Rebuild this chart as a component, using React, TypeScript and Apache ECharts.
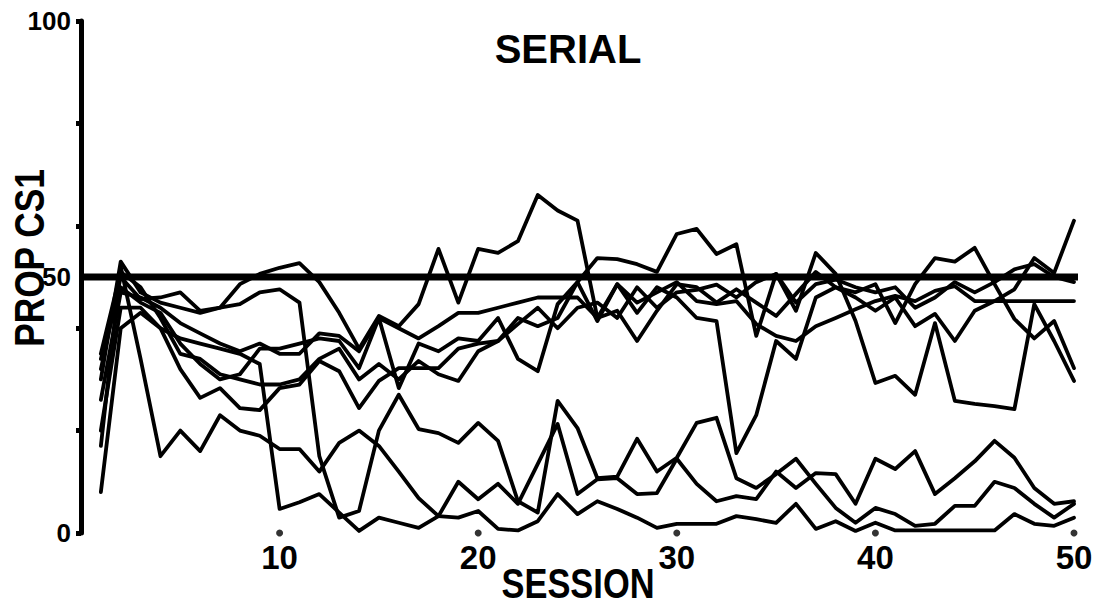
import React, { useEffect, useRef } from "react";
import * as echarts from "echarts";

const sessions = [1,2,3,4,5,6,7,8,9,10,11,12,13,14,15,16,17,18,19,20,21,22,23,24,25,26,27,28,29,30,31,32,33,34,35,36,37,38,39,40,41,42,43,44,45,46,47,48,49,50];

const subjL1 = [17,52,34,15,20,16,23,20,19,16.4, 16.4,12,17.6,20,17,12,6.8,3.3,3,4.3, 0.8,0.5,2.3,7.6,3.7,6.2,4.7,3,1,1.8, 1.8,1.8,3.3,2.7,2,5.7,0.8,2.3,0.4,2, 0.5,0.5,0.5,0.5,0.5,0.5,3.7,1.8,1.4,3];
const subjL2 = [20,44,44,40,38,37,36,35,33,4.7, 6,7.6,4,0.4,3,2,1,3.3,10,6.6, 9.6,5.7,13.5,21.3,7.6,10.5,10.7,7.6,7.8,14.5, 9.6,6.2,7.2,6.6,12,8.8,11.7,11.5,5.7,14.5, 12.5,16,7.6,10.7,14,18,14.7,8.8,5.7,6.2];
const subjM1 = [32,50,45.7,46,47,43.4,44,44.7,47,47.6, 45,15,3,4.3,20,27,20.3,19.5,17.6,21.5, 18,6.2,4,25.8,20.5,10.7,11,18.4,12,14.7, 21.5,22.5,10.7,8.8,11.5,14.5,9.6,4.9,2,4.9, 3.7,1.4,1.8,5.3,5.3,10,8.8,5.7,3,5.7];
const subjP = [30,53,47,45,44,43,44,48.6,50.6,51.8, 52.7,49,43,36,42.4,40.4,44.7,55.5,45,55.5, 54.7,57,66,63,61,42,48.6,43,48,46, 42,41.4,15.6,23,37.5,34,46,48,47,48.6, 41,48.6,53.7,53,55.7,48.6,41.8,38,41.4,32.2];
const subjQ = [26,47,46,44,41,39,37,35.5,37,35, 35,39,38.5,35.5,42,40,38,40.4,43,43, 44,45,46,46,46,42,43.4,37.5,43.4,48.6, 48,45,47.6,45,42.4,46.7,51,48,46,43.4, 46,40.4,42.8,37.5,43.4,45.3,47.6,53.7,50.8,61];
const subjR = [8,40,43,40,32,26.4,28.3,24.4,24,28.3, 29,33.6,31.6,24.4,29.7,32.2,32.2,32.2,36,37, 37.5,42,40.4,42,49,53.7,53.5,52.5,51,58.4, 59.4,54.5,56.4,38.5,50.6,43.4,54.7,50.6,41.4,29.3, 30.7,27,41,25.8,25.2,24.8,24.2,44.7,37.5,29.7];
const subjS = [34,48,45,43,37,33,30,31,36,36, 37,38,37.5,32.2,42,28.3,37,35.5,38,37.5, 42,34,31.6,44.7,49,41.4,48.6,45,47,49, 45.3,44.7,45.3,40.8,38.5,37.5,40.4,42,43.7,45.3, 46.3,45.3,47.3,48.2,45.3,45.3,45.3,45.3,45.3,45.3];
const subjT = [35,51,48,42,35,34,31,30,29,29, 30,34,36,30,33,30,33.6,31,29.7,35.5, 37.5,40.8,44,40,44,45,42,48,44,47, 47.5,48.5,46,49,50.6,45,48.6,49.5,48,47, 48,44,46,49,47,49,51.5,52.5,50,49];

const allSubjects = [subjL1, subjL2, subjM1, subjP, subjQ, subjR, subjS, subjT];

const refLevel = [50, 50];
const refSessions = [0, 50.65];
const xTickValues = [10, 20, 30, 40, 50];
const yTickValues = [0, 20, 40, 60, 80, 100];
const yLabelValues = [0, 50, 100];

const FONT = '"Liberation Sans", Arial, sans-serif';

export default function App() {
  const ref = useRef<HTMLDivElement>(null);
  useEffect(() => {
    if (!ref.current) return;
    const chart = echarts.init(ref.current, undefined, { renderer: "svg" });
    const lineSeries = allSubjects.map((vals, i) => ({
      type: "line",
      name: "s" + i,
      data: sessions.map((s, j) => [s, vals[j]]),
      symbol: "none",
      lineStyle: { color: "#000", width: 3.8, join: "round", cap: "round" },
      z: 3,
    }));
    chart.setOption({
      animation: false,
      backgroundColor: "#fff",
      grid: { left: 81, right: 41, top: 21, bottom: 73 },
      xAxis: {
        type: "value",
        min: 0,
        max: 50,
        interval: 10,
        axisLine: { show: false },
        axisTick: { show: false },
        splitLine: { show: false },
        axisLabel: {
          margin: 8,
          color: "#000",
          fontFamily: FONT,
          fontWeight: "bold",
          fontSize: 33,
          formatter: (v: number) => (v === 0 ? "" : String(v)),
        },
      },
      yAxis: {
        type: "value",
        min: 0,
        max: 100,
        interval: 10,
        z: 10,
        splitLine: { show: false },
        axisLine: { show: true, lineStyle: { color: "#000", width: 5 } },
        axisTick: {
          show: true,
          customValues: yTickValues,
          length: 5,
          lineStyle: { color: "#000", width: 5 },
        },
        axisLabel: {
          customValues: yLabelValues,
          margin: 10,
          color: "#000",
          fontFamily: FONT,
          fontWeight: "bold",
          fontSize: 26,
        },
      },
      graphic: [
        {
          type: "text",
          x: 568,
          y: 49,
          style: {
            text: "SERIAL",
            font: "bold 40px " + FONT,
            fill: "#000",
            align: "center",
            verticalAlign: "middle",
          },
        },
        {
          type: "text",
          x: 578,
          y: 604,
          scaleX: 0.82,
          style: {
            text: "SESSION",
            font: "bold 42px " + FONT,
            fill: "#000",
            align: "center",
            verticalAlign: "bottom",
          },
        },
        {
          type: "text",
          x: 29,
          y: 258,
          rotation: Math.PI / 2,
          scaleX: 0.84,
          style: {
            text: "PROP CS1",
            font: "bold 42px " + FONT,
            fill: "#000",
            align: "center",
            verticalAlign: "middle",
          },
        },
      ],
      series: [
        ...lineSeries,
        {
          type: "line",
          name: "ref",
          data: refSessions.map((s, i) => [s, refLevel[i]]),
          symbol: "none",
          lineStyle: { color: "#000", width: 7 },
          z: 4,
        },
        {
          type: "scatter",
          name: "ticks",
          data: xTickValues.map((s) => [s, 0]),
          symbol: "circle",
          symbolSize: 7,
          itemStyle: { color: "#000" },
          clip: false,
          z: 5,
        },
      ],
    });
    return () => chart.dispose();
  }, []);
  return (
    <div
      ref={ref}
      style={{ position: "absolute", left: 0, top: 0, width: 1115, height: 606, background: "#fff" }}
    />
  );
}
